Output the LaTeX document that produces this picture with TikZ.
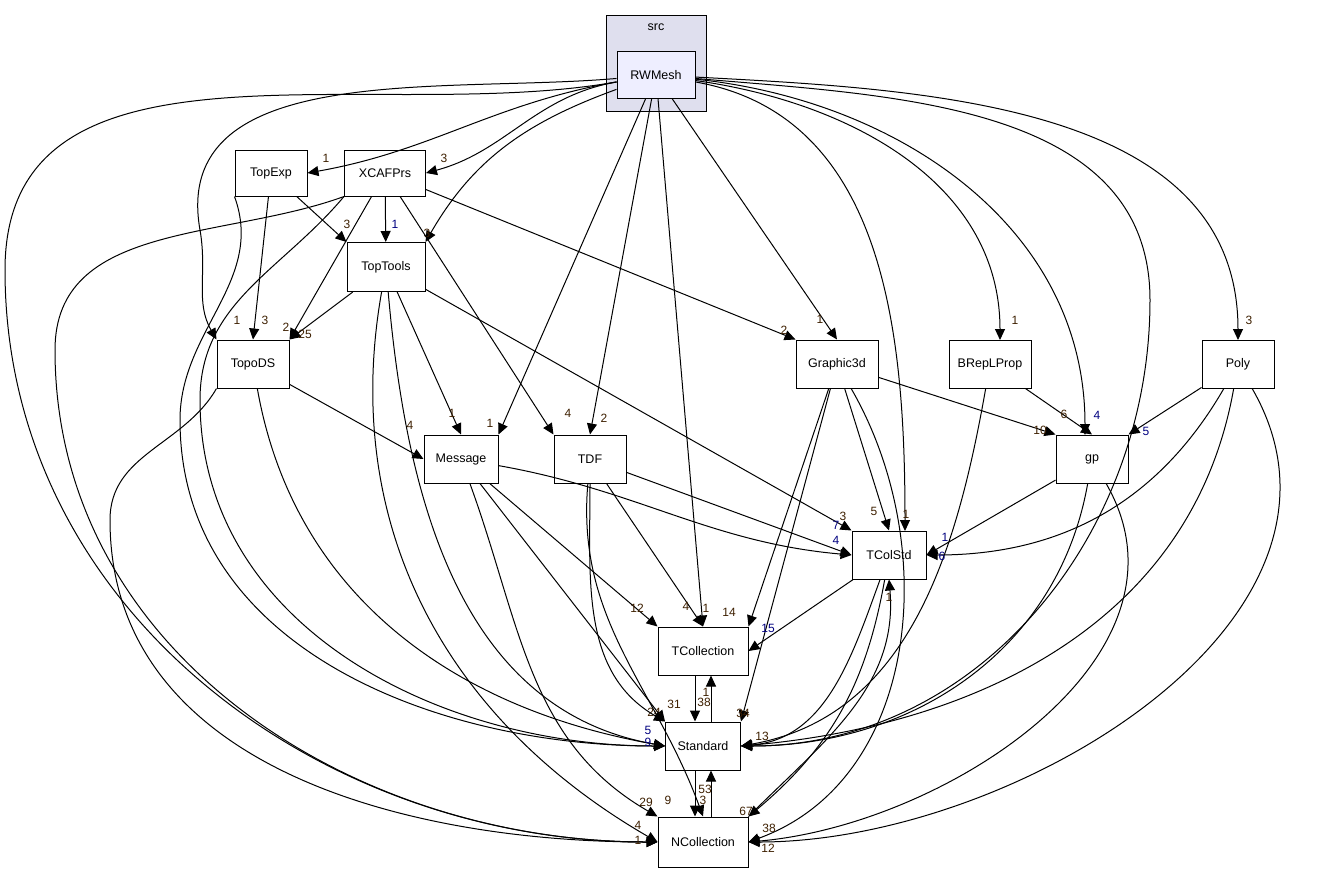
\documentclass[tikz,border=0pt]{standalone}
\usepackage{fontspec}
\setmainfont{Liberation Sans}
\usetikzlibrary{arrows.meta}
\begin{document}
\begin{tikzpicture}[x=1pt,y=-1pt,
 box/.style={draw,line width=1pt,fill=white,minimum height=48pt,inner sep=0pt,font=\fontsize{12.5}{13}\selectfont},
 e/.style={-{Triangle[length=11pt,width=10pt]},line width=1pt},
 lb/.style={font=\fontsize{12}{12}\selectfont,text=black!60!orange!60!black,inner sep=1pt},
 lbb/.style={font=\fontsize{12}{12}\selectfont,text=blue!50!black,inner sep=1pt}]
\useasboundingbox (0,0) rectangle (1323,873);
\node[draw,line width=1pt,fill={rgb,255:red,223;green,223;blue,238},minimum width=100pt,minimum height=96pt,inner sep=0pt] (src) at (656,63) {};
\node[font=\fontsize{12.5}{13}\selectfont] at (656,27) {src};
\node[box,fill={rgb,255:red,238;green,238;blue,255},minimum width=78pt,minimum height=47pt] (rw) at (656,75) {RWMesh};
\node[box,minimum width=72pt,minimum height=46pt] (topexp) at (271,173) {TopExp};
\node[box,minimum width=81pt,minimum height=46pt] (xcaf) at (385,173) {XCAFPrs};
\node[box,minimum width=78pt,minimum height=49pt] (toptools) at (386,267) {TopTools};
\node[box,minimum width=72pt] (topods) at (253,364) {TopoDS};
\node[box,minimum width=74pt] (msg) at (461,459) {Message};
\node[box,minimum width=72pt] (tdf) at (590,459) {TDF};
\node[box,minimum width=82pt] (g3d) at (837,364) {Graphic3d};
\node[box,minimum width=82pt] (brep) at (990,364) {BRepLProp};
\node[box,minimum width=72pt] (poly) at (1238,364) {Poly};
\node[box,minimum width=72pt] (gp) at (1092,459) {gp};
\node[box,minimum width=74pt] (tcol) at (889,555) {TColStd};
\node[box,minimum width=90pt] (tcoll) at (703,651) {TCollection};
\node[box,minimum width=75pt] (std) at (703,746) {Standard};
\node[box,minimum width=90pt,minimum height=50pt] (ncol) at (703,842) {NCollection};
% RWMesh edges
\draw[e] (rw) to[out=190,in=10] (topexp.east);
\node[lb] at (326,158) {1};
\draw[e] (rw) to[out=190,in=15] (xcaf.east);
\node[lb] at (444,158) {3};
\draw[e] (rw) to[out=200,in=60] (toptools.north east);
\node[lb] at (427,233) {3};
\draw[e] (rw) to[out=185,in=100] (200,230) to[out=-80,in=120] (topods.north west);
\node[lb] at (237,320) {1};
\draw[e] (rw) -- (msg.north east);
\node[lb] at (490,423) {1};
\draw[e] (rw) -- (tdf.north);
\node[lb] at (604,418) {2};
\draw[e] (rw) -- (tcoll.north);
\node[lb] at (706,608) {1};
\draw[e] (rw) -- (g3d.north);
\node[lb] at (820,319) {1};
\draw[e] (rw) to[out=-10,in=90] (905,531);
\node[lb] at (906,514) {1};
\draw[e] (rw) to[out=-8,in=90] (1000,340);
\node[lb] at (1015,320) {1};
\draw[e] (rw) to[out=-6,in=90] (1085,435);
\node[lbb] at (1097,415) {4};
\draw[e] (rw) to[out=-3,in=90] (1238,340);
\node[lb] at (1249,320) {3};
\draw[e] (rw) to[out=-5,in=90] (1150,300) to[out=-90,in=0] (std.east);
\node[lb] at (762,736) {13};
\draw[e] (rw) to[out=190,in=90] (5,270) to[out=-90,in=180] (ncol.west);
\node[lb] at (638,825) {4};
% TopExp
\draw[e] (topexp) -- (topods.north);
\node[lb] at (265,320) {3};
\draw[e] (topexp) -- (toptools.north west);
\node[lb] at (347,224) {3};
\draw[e] (topexp.south west) to[out=-70,in=90] (180,420) to[out=-90,in=180] (std.west);
% XCAFPrs
\draw[e] (xcaf) -- (toptools);
\node[lbb] at (395,224) {1};
\draw[e] (xcaf) -- (topods.north east);
\node[lb] at (286,327) {2};
\draw[e] (xcaf) -- (tdf.north west);
\node[lb] at (568,413) {4};
\draw[e] (xcaf) -- (g3d.north west);
\node[lb] at (784,330) {2};
\draw[e] (xcaf.south west) to[out=-130,in=90] (200,400) to[out=-90,in=180] (std.west);
\node[lbb] at (648,730) {5};
\draw[e] (xcaf.south west) to[out=-160,in=90] (55,350) to[out=-90,in=180] (ncol.west);
% TopTools
\draw[e] (toptools) -- (topods.north east);
\node[lb] at (305,334) {25};
\draw[e] (toptools) -- (msg.north);
\node[lb] at (452,413) {1};
\draw[e] (toptools) -- (tcol.north west);
\node[lb] at (843,516) {3};
\draw[e] (toptools) to[out=-85,in=170] (std.west);
\draw[e] (toptools) to[out=-100,in=150] (ncol.west);
% TopoDS
\draw[e] (topods) -- (msg.west);
\node[lb] at (410,425) {4};
\draw[e] (topods) to[out=-80,in=170] (std.west);
\node[lbb] at (648,742) {9};
\draw[e] (topods.south west) to[out=-120,in=90] (110,520) to[out=-90,in=180] (ncol.west);
\node[lb] at (638,840) {1};
% Message
\draw[e] (msg) to[out=-10,in=175] (tcol.west);
\node[lbb] at (836,525) {7};
\draw[e] (msg) -- (tcoll.north west);
\node[lb] at (637,608) {12};
\draw[e] (msg) -- (std.north west);
\node[lb] at (654,712) {24};
\draw[e] (msg) to[out=-70,in=150] (ncol.north west);
\node[lb] at (646,802) {29};
% TDF
\draw[e] (tdf) -- (tcol.west);
\node[lbb] at (836,540) {4};
\draw[e] (tdf) -- (tcoll.north);
\node[lb] at (686,606) {4};
\draw[e] (tdf) to[out=-90,in=150] (std.north west);
\node[lb] at (674,704) {31};
\draw[e] (tdf) to[out=-95,in=110] (ncol.north);
\node[lb] at (668,800) {9};
% Graphic3d
\draw[e] (g3d) -- (tcol.north);
\node[lb] at (874,511) {5};
\draw[e] (g3d) -- (gp.north west);
\node[lb] at (1040,430) {10};
\draw[e] (g3d) -- (tcoll.north east);
\node[lb] at (729,612) {14};
\draw[e] (g3d) -- (std.north east);
\node[lb] at (743,713) {34};
\draw[e] (g3d) to[out=-60,in=20] (ncol.east);
\node[lb] at (746,811) {67};
% BRepLProp
\draw[e] (brep) -- (gp.north);
\node[lb] at (1064,414) {6};
\draw[e] (brep) to[out=-100,in=10] (std.east);
% Poly
\draw[e] (poly) -- (gp.north east);
\node[lbb] at (1146,431) {5};
\draw[e] (poly) to[out=-120,in=0] (tcol.east);
\node[lbb] at (942,556) {6};
\draw[e] (poly) to[out=-100,in=5] (std.east);
\draw[e] (poly) to[out=-60,in=0] (ncol.east);
\node[lb] at (768,848) {12};
% gp
\draw[e] (gp) -- (tcol.east);
\node[lbb] at (945,537) {1};
\draw[e] (gp) to[out=-100,in=0] (std.east);
\draw[e] (gp) to[out=-60,in=5] (ncol.east);
\node[lb] at (769,828) {38};
% TColStd
\draw[e] (tcol) -- (tcoll.east);
\node[lbb] at (768,628) {15};
\draw[e] (tcol) to[out=-110,in=5] (std.east);
\draw[e] (tcol) to[out=-100,in=40] (ncol.north east);
\draw[e] (ncol.north east) to[out=45,in=-85] (tcol.south);
\node[lb] at (889,597) {1};
% TCollection / Standard / NCollection
\draw[e] ([xshift=-8pt]tcoll.south) -- ([xshift=-8pt]std.north);
\node[lb] at (704,702) {38};
\draw[e] ([xshift=8pt]std.north) -- ([xshift=8pt]tcoll.south);
\node[lb] at (706,692) {1};
\draw[e] ([xshift=-8pt]std.south) -- ([xshift=-8pt]ncol.north);
\node[lb] at (703,800) {3};
\draw[e] ([xshift=8pt]ncol.north) -- ([xshift=8pt]std.south);
\node[lb] at (705,789) {53};
\end{tikzpicture}
\end{document}
